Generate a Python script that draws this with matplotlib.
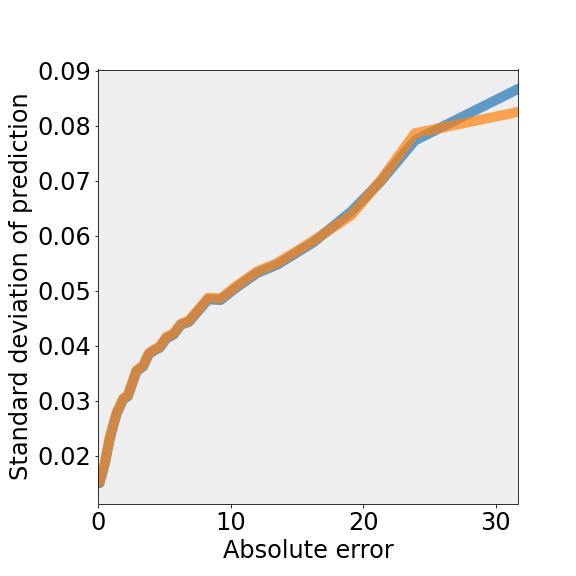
import matplotlib
matplotlib.use("Agg")
import matplotlib.pyplot as plt

# absolute error bins (x) and std of prediction for the two models
abs_error = [0.12, 0.5, 0.9, 1.4, 1.9, 2.25, 2.9, 3.4, 3.85, 4.3, 4.65, 5.15,
             5.7, 6.25, 6.85, 8.3, 9.25, 10.4, 12.0, 13.5, 16.2, 19.1, 21.3,
             23.9, 31.7]
std_blue = [0.0150, 0.0184, 0.0232, 0.0276, 0.0302, 0.0308, 0.0353, 0.0362,
            0.0385, 0.0392, 0.0396, 0.0413, 0.0420, 0.0438, 0.0443, 0.0484,
            0.0483, 0.0505, 0.0532, 0.0547, 0.0587, 0.0644, 0.0698, 0.0773,
            0.0867]
std_orange = [0.0152, 0.0186, 0.0234, 0.0278, 0.0304, 0.0310, 0.0355, 0.0364,
              0.0387, 0.0394, 0.0398, 0.0416, 0.0422, 0.0440, 0.0445, 0.0487,
              0.0486, 0.0508, 0.0535, 0.0550, 0.0590, 0.0637, 0.0700, 0.0786,
              0.0825]

fig = plt.figure(figsize=(8, 8), dpi=72)
ax = fig.add_axes([98 / 576, 1 - 503.5 / 576, 420 / 576, 434 / 576])
ax.set_facecolor("#eeeeee")

ax.plot(abs_error, std_blue, color="#1f77b4", lw=10, alpha=0.7,
        solid_capstyle="round")
ax.plot(abs_error, std_orange, color="#ff7f0e", lw=10, alpha=0.7,
        solid_capstyle="round")

ax.set_xlim(0, 31.67)
ax.set_ylim(0.0113, 0.0902)
ax.set_xticks([0, 10, 20, 30])
ax.set_yticks([0.02, 0.03, 0.04, 0.05, 0.06, 0.07, 0.08, 0.09])
ax.tick_params(labelsize=24)
ax.set_xlabel("Absolute error", fontsize=24)
ax.set_ylabel("Standard deviation of prediction", fontsize=24)

fig.savefig("out.png", dpi=72)
